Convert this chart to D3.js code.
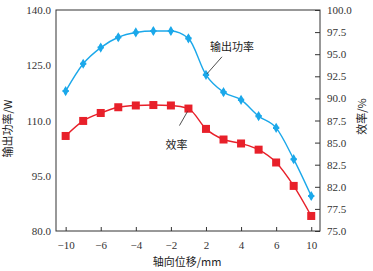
<!DOCTYPE html>
<html>
<head>
<meta charset="utf-8">
<script src="https://cdn.jsdelivr.net/npm/d3@7"></script>
<style>
  body { margin: 0; background: #fff; }
  svg text { font-family: "Liberation Serif", "DejaVu Serif", serif; }
  .cjk { font-family: "Noto Sans CJK SC", sans-serif; }
</style>
</head>
<body>
<svg id="chart" width="373" height="271"></svg>
<script>
// point positions along the axis (index), tick labels shown every second point
const xIndex = [0, 1, 2, 3, 4, 5, 6, 7, 8, 9, 10, 11, 12, 13, 14];
const xTickIndex = [0, 2, 4, 6, 8, 10, 12, 14];
const xTickLabels = ['−10', '−6', '−4', '−2', '2', '4', '6', '10'];

const power = [118.0, 125.4, 129.8, 132.6, 133.9, 134.3, 134.3, 132.3, 122.4, 117.7, 115.6, 111.2, 108.0, 99.5, 89.5];
const efficiency = [85.75, 87.45, 88.35, 89.0, 89.2, 89.25, 89.2, 88.85, 86.55, 85.35, 84.9, 84.2, 82.75, 80.1, 76.7];

const leftTicks = [80, 95, 110, 125, 140];
const rightTicks = [75, 77.5, 80, 82.5, 85, 87.5, 90, 92.5, 95, 97.5, 100];
const rightTickLabels = ['75.0', '77.5', '82.0', '82.5', '85.0', '87.5', '90.0', '92.5', '95.0', '97.5', '100.0'];

const svg = d3.select('#chart');
const margin = { top: 10, right: 53, bottom: 40, left: 56 };
const width = 373 - margin.left - margin.right;
const height = 271 - margin.top - margin.bottom;

const g = svg.append('g').attr('transform', `translate(${margin.left},${margin.top})`);

const x = d3.scaleLinear().domain([-0.55, 14.5]).range([0, width]);
const yL = d3.scaleLinear().domain([80, 140]).range([height, 0]);
const yR = d3.scaleLinear().domain([75, 100]).range([height, 0]);

const axisColor = '#333';

// frame
g.append('rect')
  .attr('width', width).attr('height', height)
  .attr('fill', 'none').attr('stroke', axisColor).attr('stroke-width', 1);

// bottom axis, ticks inward
const xAxis = g.append('g')
  .attr('transform', `translate(0,${height})`)
  .call(d3.axisBottom(x).tickValues(xTickIndex).tickSizeInner(-4).tickSizeOuter(0)
    .tickFormat((d, i) => xTickLabels[i]));
xAxis.select('.domain').remove();
xAxis.selectAll('line').attr('stroke', axisColor);
xAxis.selectAll('text').attr('y', 10).attr('font-size', 11).attr('fill', '#333')
  .style('font-family', '"Liberation Serif", serif');

// left axis
const leftAxis = g.append('g')
  .call(d3.axisLeft(yL).tickValues(leftTicks).tickSize(0).tickFormat(d3.format('.1f')));
leftAxis.select('.domain').remove();
leftAxis.selectAll('text').attr('x', -5).attr('font-size', 11).attr('fill', '#333')
  .style('font-family', '"Liberation Serif", serif');

// right axis, ticks inward
const rightAxis = g.append('g')
  .attr('transform', `translate(${width},0)`)
  .call(d3.axisRight(yR).tickValues(rightTicks).tickSizeInner(-5).tickSizeOuter(0)
    .tickFormat((d, i) => rightTickLabels[i]));
rightAxis.select('.domain').remove();
rightAxis.selectAll('line').attr('stroke', axisColor);
rightAxis.selectAll('text').attr('x', 7).attr('font-size', 11).attr('fill', '#333')
  .style('font-family', '"Liberation Serif", serif');

// power line (blue)
const blue = '#1ba8ea';
const powerLine = d3.line().x((d, i) => x(xIndex[i])).y(d => yL(d)).curve(d3.curveMonotoneX);
g.append('path').datum(power)
  .attr('d', powerLine).attr('fill', 'none').attr('stroke', blue).attr('stroke-width', 1.4);
g.selectAll('.pw').data(power).enter().append('path')
  .attr('transform', (d, i) => `translate(${x(xIndex[i])},${yL(d)})`)
  .attr('d', d3.symbol().type(d3.symbolDiamond).size(30))
  .attr('fill', blue);
g.selectAll('.pw2').data(power).enter().append('path')
  .attr('transform', (d, i) => `translate(${x(xIndex[i])},${yL(d)})`)
  .attr('d', d3.symbol().type(d3.symbolCross).size(22))
  .attr('fill', blue);

// efficiency line (red)
const red = '#e8202a';
const effLine = d3.line().x((d, i) => x(xIndex[i])).y(d => yR(d)).curve(d3.curveMonotoneX);
g.append('path').datum(efficiency)
  .attr('d', effLine).attr('fill', 'none').attr('stroke', red).attr('stroke-width', 1.4);
g.selectAll('.ef').data(efficiency).enter().append('rect')
  .attr('x', (d, i) => x(xIndex[i]) - 4)
  .attr('y', d => yR(d) - 4)
  .attr('width', 8).attr('height', 8)
  .attr('fill', red);

// annotations
g.append('line')
  .attr('x1', x(8) + 1).attr('y1', yL(power[8]) - 1)
  .attr('x2', x(8) + 16).attr('y2', yL(power[8]) - 18)
  .attr('stroke', '#222').attr('stroke-width', 0.8);
g.append('text').attr('class', 'cjk')
  .attr('x', x(8) + 4).attr('y', yL(power[8]) - 24)
  .attr('font-size', 11).attr('fill', '#222')
  .style('font-family', '"Noto Sans CJK SC", sans-serif')
  .text('输出功率');

g.append('line')
  .attr('x1', x(7) - 1).attr('y1', yR(efficiency[7]) + 3)
  .attr('x2', x(7) - 9).attr('y2', yR(efficiency[7]) + 17)
  .attr('stroke', '#222').attr('stroke-width', 0.8);
g.append('text')
  .attr('x', x(7) - 23).attr('y', yR(efficiency[7]) + 40)
  .attr('font-size', 11).attr('fill', '#222')
  .style('font-family', '"Noto Sans CJK SC", sans-serif')
  .text('效率');

// axis titles
svg.append('text')
  .attr('transform', `translate(12,${margin.top + height / 2 + 8}) rotate(-90)`)
  .attr('text-anchor', 'middle').attr('font-size', 11).attr('fill', '#222')
  .style('font-family', '"Noto Sans CJK SC", sans-serif')
  .text('输出功率/W');
svg.append('text')
  .attr('transform', `translate(366,${margin.top + height / 2 - 4}) rotate(-90)`)
  .attr('text-anchor', 'middle').attr('font-size', 11).attr('fill', '#222')
  .style('font-family', '"Noto Sans CJK SC", sans-serif')
  .text('效率/%');
svg.append('text')
  .attr('x', 187).attr('y', 266)
  .attr('text-anchor', 'middle').attr('font-size', 11).attr('fill', '#222')
  .style('font-family', '"Noto Sans CJK SC", sans-serif')
  .text('轴向位移/mm');
</script>
</body>
</html>
